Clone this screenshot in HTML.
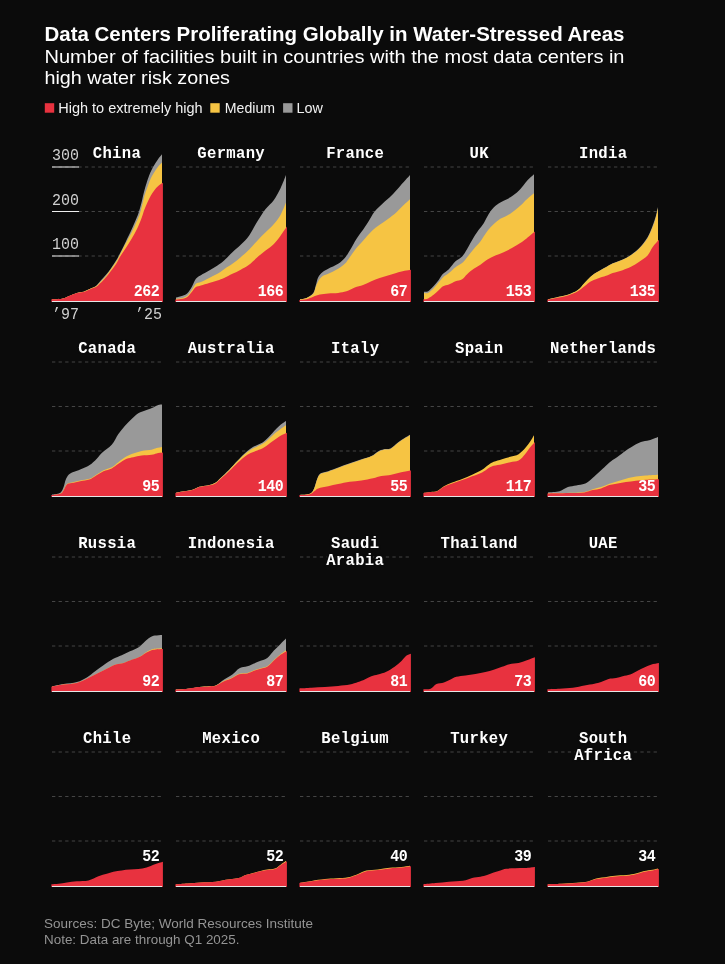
<!DOCTYPE html>
<html><head><meta charset="utf-8"><title>Data Centers</title>
<style>
html,body{margin:0;padding:0;background:#0b0b0b;}
body{width:725px;height:964px;overflow:hidden;position:relative;font-family:"Liberation Sans",sans-serif;}
svg{position:absolute;left:0;top:0;will-change:transform;}
.t{font-family:"Liberation Sans",sans-serif;}
.m{font-family:"Liberation Mono",monospace;}
</style></head><body>
<svg width="725" height="964" viewBox="0 0 725 964">
<rect width="725" height="964" fill="#0b0b0b"/>

<text class="t" x="44.5" y="40.6" font-size="20" font-weight="bold" fill="#ffffff" textLength="580" lengthAdjust="spacingAndGlyphs">Data Centers Proliferating Globally in Water-Stressed Areas</text>
<text class="t" x="44.5" y="62.6" font-size="19.2" fill="#ffffff" textLength="580" lengthAdjust="spacingAndGlyphs">Number of facilities built in countries with the most data centers in</text>
<text class="t" x="44.5" y="84.4" font-size="19.2" fill="#ffffff" textLength="185.5" lengthAdjust="spacingAndGlyphs">high water risk zones</text>
<rect x="44.8" y="103.2" width="9.4" height="9.5" fill="#e8323f"/>
<text class="t" x="58.2" y="112.6" font-size="14.4" fill="#f2f2f2" textLength="144.5" lengthAdjust="spacingAndGlyphs">High to extremely high</text>
<rect x="210.3" y="103.2" width="9.4" height="9.5" fill="#f6c443"/>
<text class="t" x="224.8" y="112.6" font-size="14.4" fill="#f2f2f2" textLength="50.2" lengthAdjust="spacingAndGlyphs">Medium</text>
<rect x="283.1" y="103.2" width="9.4" height="9.5" fill="#999999"/>
<text class="t" x="296.6" y="112.6" font-size="14.4" fill="#f2f2f2" textLength="26.4" lengthAdjust="spacingAndGlyphs">Low</text>
<text class="t" x="44" y="928" font-size="13" fill="#949494" textLength="269" lengthAdjust="spacingAndGlyphs">Sources: DC Byte; World Resources Institute</text>
<text class="t" x="44" y="944" font-size="13" fill="#949494" textLength="195.5" lengthAdjust="spacingAndGlyphs">Note: Data are through Q1 2025.</text>
<g>
<line x1="52" y1="256" x2="162" y2="256" stroke="#454545" stroke-width="1" stroke-dasharray="3.3 3.3"/>
<line x1="52" y1="256" x2="79" y2="256" stroke="#eeeeee" stroke-width="1"/>
<line x1="52" y1="211.5" x2="162" y2="211.5" stroke="#454545" stroke-width="1" stroke-dasharray="3.3 3.3"/>
<line x1="52" y1="211.5" x2="79" y2="211.5" stroke="#eeeeee" stroke-width="1"/>
<line x1="52" y1="167" x2="162" y2="167" stroke="#454545" stroke-width="1" stroke-dasharray="3.3 3.3"/>
<line x1="52" y1="167" x2="79" y2="167" stroke="#eeeeee" stroke-width="1"/>
<path d="M52.00,299.22C53.66,299.13 59.17,299.22 61.94,298.72C64.70,298.22 66.09,297.20 68.58,296.23C71.07,295.26 74.39,293.66 76.88,292.91C79.37,292.16 81.30,292.44 83.51,291.75C85.73,291.06 88.08,289.73 90.15,288.76C92.23,287.79 94.33,287.13 95.96,285.94C97.59,284.75 97.93,283.89 99.95,281.62C101.97,279.35 105.40,275.84 108.08,272.33C110.76,268.81 114.05,263.72 116.05,260.54C118.04,257.36 118.42,256.34 120.03,253.24C121.63,250.14 123.76,245.85 125.67,241.95C127.58,238.05 129.77,233.57 131.48,229.84C133.20,226.10 134.75,222.48 135.96,219.55C137.18,216.62 137.82,215.26 138.78,212.24C139.75,209.23 140.91,204.80 141.77,201.46C142.63,198.11 143.10,195.32 143.93,192.16C144.76,189.01 145.70,185.77 146.75,182.54C147.80,179.30 149.07,175.51 150.24,172.74C151.40,169.98 152.48,168.12 153.72,165.94C154.97,163.75 156.33,161.57 157.71,159.63C159.09,157.69 161.28,155.20 162.00,154.32L162.00,302.00L52.00,302.00Z" fill="#999999"/>
<path d="M52.00,299.22C53.66,299.13 59.17,299.22 61.94,298.72C64.70,298.22 66.09,297.20 68.58,296.23C71.07,295.26 74.39,293.66 76.88,292.91C79.37,292.16 81.30,292.44 83.51,291.75C85.73,291.06 88.08,289.67 90.15,288.76C92.23,287.85 94.33,287.29 95.96,286.27C97.59,285.25 97.93,284.80 99.95,282.62C101.97,280.43 105.40,276.62 108.08,273.16C110.76,269.70 114.05,264.97 116.05,261.87C118.04,258.77 118.42,257.61 120.03,254.57C121.63,251.53 123.76,247.24 125.67,243.61C127.58,239.99 129.77,236.26 131.48,232.83C133.20,229.40 134.63,225.99 135.96,223.03C137.29,220.07 138.40,218.11 139.45,215.07C140.50,212.02 141.44,208.01 142.27,204.78C143.10,201.54 143.57,198.58 144.43,195.65C145.28,192.72 146.36,190.03 147.41,187.18C148.47,184.33 149.60,181.04 150.73,178.55C151.87,176.06 152.98,174.24 154.22,172.24C155.46,170.25 156.91,168.21 158.20,166.60C159.50,165.00 161.37,163.28 162.00,162.62L162.00,302.00L52.00,302.00Z" fill="#f6c443"/>
<path d="M51.40,299.22C53.16,299.13 59.07,299.22 61.94,298.72C64.80,298.22 66.09,297.17 68.58,296.23C71.07,295.29 74.39,293.77 76.88,293.07C79.37,292.38 81.30,292.72 83.51,292.08C85.73,291.44 88.08,290.09 90.15,289.26C92.23,288.43 94.33,288.04 95.96,287.10C97.59,286.16 97.93,285.69 99.95,283.61C101.97,281.54 105.40,277.92 108.08,274.65C110.76,271.39 114.05,267.02 116.05,264.03C118.04,261.04 118.42,259.35 120.03,256.73C121.63,254.10 123.76,251.22 125.67,248.26C127.58,245.30 129.57,242.20 131.48,238.97C133.39,235.73 135.41,232.44 137.12,228.84C138.84,225.25 140.55,220.63 141.77,217.39C142.99,214.15 143.49,211.91 144.43,209.42C145.37,206.93 146.36,204.75 147.41,202.45C148.47,200.16 149.60,197.64 150.73,195.65C151.87,193.66 152.98,192.11 154.22,190.50C155.46,188.90 156.76,187.29 158.20,186.02C159.65,184.75 162.12,183.39 162.90,182.87L162.90,302.00L51.40,302.00Z" fill="#e8323f"/>
<rect x="52" y="301" width="110" height="1" fill="#e6e6e6"/>
<text class="m" x="116.95" y="157.6" font-size="15.6" font-weight="bold" fill="#ffffff" text-anchor="middle" letter-spacing="0.3" stroke="#0b0b0b" stroke-width="4" paint-order="stroke" stroke-linejoin="round">China</text>
<text class="m" transform="translate(159.2,295.5) scale(0.909,1)" font-size="16.5" font-weight="bold" fill="#ffffff" text-anchor="end" letter-spacing="-0.6">262</text>
</g>
<g>
<line x1="176" y1="256" x2="286" y2="256" stroke="#454545" stroke-width="1" stroke-dasharray="3.3 3.3"/>
<line x1="176" y1="211.5" x2="286" y2="211.5" stroke="#454545" stroke-width="1" stroke-dasharray="3.3 3.3"/>
<line x1="176" y1="167" x2="286" y2="167" stroke="#454545" stroke-width="1" stroke-dasharray="3.3 3.3"/>
<path d="M176.00,297.39C177.10,297.11 180.69,296.48 182.62,295.73C184.55,294.98 186.08,294.35 187.60,292.91C189.12,291.47 190.36,289.45 191.75,287.10C193.13,284.75 194.37,280.79 195.90,278.80C197.42,276.81 198.66,276.53 200.88,275.15C203.09,273.77 206.41,272.11 209.17,270.50C211.94,268.90 214.98,267.18 217.47,265.52C219.96,263.86 221.62,262.76 224.11,260.54C226.60,258.33 229.64,254.87 232.41,252.24C235.18,249.62 237.94,247.54 240.71,244.78C243.48,242.01 246.24,239.52 249.01,235.65C251.77,231.77 254.54,225.97 257.31,221.54C260.07,217.11 262.84,212.69 265.61,209.09C268.37,205.50 271.41,203.42 273.90,199.96C276.39,196.50 278.53,192.49 280.54,188.34C282.56,184.20 285.09,177.28 286.00,175.07L286.00,302.00L176.00,302.00Z" fill="#999999"/>
<path d="M176.00,298.72C177.10,298.58 180.69,298.44 182.62,297.89C184.55,297.33 186.08,296.70 187.60,295.40C189.12,294.10 190.36,292.02 191.75,290.09C193.13,288.15 194.37,285.11 195.90,283.78C197.42,282.45 198.66,283.09 200.88,282.12C203.09,281.15 206.41,279.35 209.17,277.97C211.94,276.59 214.98,275.29 217.47,273.82C219.96,272.36 221.62,270.83 224.11,269.17C226.60,267.51 229.64,265.85 232.41,263.86C235.18,261.87 237.94,259.58 240.71,257.22C243.48,254.87 246.24,252.52 249.01,249.76C251.77,246.99 254.54,243.53 257.31,240.63C260.07,237.72 262.84,235.09 265.61,232.33C268.37,229.56 271.41,226.93 273.90,224.03C276.39,221.12 278.53,218.50 280.54,214.90C282.56,211.30 285.09,204.53 286.00,202.45L286.00,302.00L176.00,302.00Z" fill="#f6c443"/>
<path d="M175.40,299.55C176.60,299.41 180.59,299.19 182.62,298.72C184.65,298.25 186.08,297.83 187.60,296.73C189.12,295.62 190.36,293.68 191.75,292.08C193.13,290.47 194.37,288.21 195.90,287.10C197.42,285.99 198.66,286.13 200.88,285.44C203.09,284.75 206.41,283.78 209.17,282.95C211.94,282.12 214.98,281.29 217.47,280.46C219.96,279.63 221.62,279.08 224.11,277.97C226.60,276.86 229.64,275.20 232.41,273.82C235.18,272.44 237.94,271.19 240.71,269.67C243.48,268.15 246.24,266.77 249.01,264.69C251.77,262.62 254.54,259.58 257.31,257.22C260.07,254.87 262.84,252.80 265.61,250.59C268.37,248.37 271.41,246.44 273.90,243.95C276.39,241.46 278.38,238.55 280.54,235.65C282.71,232.74 285.84,228.04 286.90,226.52L286.90,302.00L175.40,302.00Z" fill="#e8323f"/>
<rect x="176" y="301" width="110" height="1" fill="#e6e6e6"/>
<text class="m" x="231.15" y="157.6" font-size="15.6" font-weight="bold" fill="#ffffff" text-anchor="middle" letter-spacing="0.3" stroke="#0b0b0b" stroke-width="4" paint-order="stroke" stroke-linejoin="round">Germany</text>
<text class="m" transform="translate(283.2,295.5) scale(0.909,1)" font-size="16.5" font-weight="bold" fill="#ffffff" text-anchor="end" letter-spacing="-0.6">166</text>
</g>
<g>
<line x1="300" y1="256" x2="410" y2="256" stroke="#454545" stroke-width="1" stroke-dasharray="3.3 3.3"/>
<line x1="300" y1="211.5" x2="410" y2="211.5" stroke="#454545" stroke-width="1" stroke-dasharray="3.3 3.3"/>
<line x1="300" y1="167" x2="410" y2="167" stroke="#454545" stroke-width="1" stroke-dasharray="3.3 3.3"/>
<path d="M300.00,299.22C301.10,298.99 304.41,298.94 306.62,297.89C308.83,296.84 311.74,294.98 313.26,292.91C314.78,290.83 314.92,288.07 315.75,285.44C316.58,282.81 317.13,279.35 318.24,277.14C319.34,274.93 320.73,273.54 322.39,272.16C324.05,270.78 325.57,270.23 328.20,268.84C330.82,267.46 335.39,265.66 338.15,263.86C340.92,262.07 342.86,260.27 344.79,258.05C346.73,255.84 347.84,253.77 349.77,250.59C351.71,247.40 354.20,242.42 356.41,238.97C358.62,235.51 361.11,232.60 363.05,229.84C364.99,227.07 366.09,225.41 368.03,222.37C369.97,219.33 372.18,214.76 374.67,211.58C377.16,208.40 380.20,205.91 382.97,203.28C385.73,200.65 388.50,198.58 391.27,195.81C394.03,193.05 396.44,190.14 399.56,186.68C402.69,183.23 408.26,177.00 410.00,175.07L410.00,302.00L300.00,302.00Z" fill="#999999"/>
<path d="M300.00,299.22C301.10,298.99 304.41,298.80 306.62,297.89C308.83,296.98 311.74,295.54 313.26,293.74C314.78,291.94 314.92,289.17 315.75,287.10C316.58,285.02 317.13,283.09 318.24,281.29C319.34,279.49 320.73,277.56 322.39,276.31C324.05,275.07 325.57,275.07 328.20,273.82C330.82,272.58 335.39,270.50 338.15,268.84C340.92,267.18 342.86,265.80 344.79,263.86C346.73,261.93 347.84,259.85 349.77,257.22C351.71,254.60 354.20,250.86 356.41,248.10C358.62,245.33 360.56,243.39 363.05,240.63C365.54,237.86 368.58,234.13 371.35,231.50C374.11,228.87 376.88,226.93 379.65,224.86C382.41,222.78 385.18,221.12 387.95,219.05C390.71,216.98 393.76,214.62 396.24,212.41C398.73,210.20 400.59,207.98 402.88,205.77C405.18,203.56 408.81,200.24 410.00,199.13L410.00,302.00L300.00,302.00Z" fill="#f6c443"/>
<path d="M299.40,300.05C300.60,299.91 304.31,299.77 306.62,299.22C308.93,298.66 311.04,297.50 313.26,296.73C315.47,295.95 317.41,295.12 319.90,294.57C322.39,294.02 325.15,293.68 328.20,293.41C331.24,293.13 335.11,293.27 338.15,292.91C341.20,292.55 343.69,292.16 346.45,291.25C349.22,290.34 351.98,288.46 354.75,287.43C357.52,286.41 360.28,286.13 363.05,285.11C365.82,284.08 368.58,282.48 371.35,281.29C374.11,280.10 376.88,278.94 379.65,277.97C382.41,277.00 385.18,276.31 387.95,275.48C390.71,274.65 393.48,273.77 396.24,272.99C399.01,272.22 402.10,271.39 404.54,270.83C406.99,270.28 409.84,269.87 410.90,269.67L410.90,302.00L299.40,302.00Z" fill="#e8323f"/>
<rect x="300" y="301" width="110" height="1" fill="#e6e6e6"/>
<text class="m" x="355.15" y="157.6" font-size="15.6" font-weight="bold" fill="#ffffff" text-anchor="middle" letter-spacing="0.3" stroke="#0b0b0b" stroke-width="4" paint-order="stroke" stroke-linejoin="round">France</text>
<text class="m" transform="translate(407.2,295.5) scale(0.909,1)" font-size="16.5" font-weight="bold" fill="#ffffff" text-anchor="end" letter-spacing="-0.6">67</text>
</g>
<g>
<line x1="424" y1="256" x2="534" y2="256" stroke="#454545" stroke-width="1" stroke-dasharray="3.3 3.3"/>
<line x1="424" y1="211.5" x2="534" y2="211.5" stroke="#454545" stroke-width="1" stroke-dasharray="3.3 3.3"/>
<line x1="424" y1="167" x2="534" y2="167" stroke="#454545" stroke-width="1" stroke-dasharray="3.3 3.3"/>
<path d="M424.00,291.75C424.69,291.66 426.47,292.24 428.13,291.25C429.78,290.25 432.14,287.71 433.94,285.77C435.74,283.84 437.40,281.62 438.92,279.63C440.44,277.64 441.41,275.56 443.07,273.82C444.73,272.08 446.80,271.25 448.88,269.17C450.95,267.10 453.30,263.50 455.51,261.37C457.73,259.24 460.22,258.47 462.15,256.39C464.09,254.32 465.20,252.11 467.13,248.93C469.07,245.74 471.84,240.49 473.77,237.31C475.71,234.13 477.09,232.19 478.75,229.84C480.41,227.49 482.07,225.83 483.73,223.20C485.39,220.57 487.05,216.70 488.71,214.07C490.37,211.44 491.75,209.37 493.69,207.43C495.63,205.50 498.11,203.84 500.33,202.45C502.54,201.07 504.75,200.38 506.97,199.13C509.18,197.89 511.39,196.64 513.61,194.98C515.82,193.32 518.03,191.53 520.24,189.17C522.46,186.82 524.59,183.37 526.88,180.88C529.18,178.39 532.81,175.34 534.00,174.24L534.00,302.00L424.00,302.00Z" fill="#999999"/>
<path d="M424.00,292.91C424.69,292.91 426.47,293.74 428.13,292.91C429.78,292.08 432.14,289.73 433.94,287.93C435.74,286.13 437.40,283.92 438.92,282.12C440.44,280.32 441.41,278.66 443.07,277.14C444.73,275.62 446.80,274.65 448.88,272.99C450.95,271.33 453.30,268.84 455.51,267.18C457.73,265.52 460.22,264.69 462.15,263.03C464.09,261.37 465.20,259.58 467.13,257.22C469.07,254.87 471.56,251.55 473.77,248.93C475.98,246.30 478.20,244.36 480.41,241.46C482.62,238.55 485.11,234.13 487.05,231.50C488.99,228.87 490.09,227.63 492.03,225.69C493.97,223.75 496.46,221.40 498.67,219.88C500.88,218.36 503.09,217.80 505.31,216.56C507.52,215.32 509.46,214.21 511.95,212.41C514.44,210.61 517.76,207.98 520.24,205.77C522.73,203.56 524.59,201.21 526.88,199.13C529.18,197.06 532.81,194.29 534.00,193.32L534.00,302.00L424.00,302.00Z" fill="#f6c443"/>
<path d="M423.40,299.22C424.19,299.08 426.37,299.16 428.13,298.39C429.88,297.61 432.14,295.95 433.94,294.57C435.74,293.19 437.40,291.47 438.92,290.09C440.44,288.70 441.41,287.18 443.07,286.27C444.73,285.36 446.80,285.44 448.88,284.61C450.95,283.78 453.30,282.20 455.51,281.29C457.73,280.38 460.22,280.32 462.15,279.13C464.09,277.94 465.20,275.87 467.13,274.15C469.07,272.44 471.56,270.42 473.77,268.84C475.98,267.27 478.20,266.21 480.41,264.69C482.62,263.17 484.56,261.24 487.05,259.71C489.54,258.19 492.58,256.81 495.35,255.56C498.11,254.32 500.88,253.49 503.65,252.24C506.41,251.00 509.18,249.62 511.95,248.10C514.71,246.57 517.76,244.78 520.24,243.12C522.73,241.46 524.44,240.07 526.88,238.14C529.33,236.20 533.56,232.60 534.90,231.50L534.90,302.00L423.40,302.00Z" fill="#e8323f"/>
<rect x="424" y="301" width="110" height="1" fill="#e6e6e6"/>
<text class="m" x="479.15" y="157.6" font-size="15.6" font-weight="bold" fill="#ffffff" text-anchor="middle" letter-spacing="0.3" stroke="#0b0b0b" stroke-width="4" paint-order="stroke" stroke-linejoin="round">UK</text>
<text class="m" transform="translate(531.2,295.5) scale(0.909,1)" font-size="16.5" font-weight="bold" fill="#ffffff" text-anchor="end" letter-spacing="-0.6">153</text>
</g>
<g>
<line x1="548" y1="256" x2="658" y2="256" stroke="#454545" stroke-width="1" stroke-dasharray="3.3 3.3"/>
<line x1="548" y1="211.5" x2="658" y2="211.5" stroke="#454545" stroke-width="1" stroke-dasharray="3.3 3.3"/>
<line x1="548" y1="167" x2="658" y2="167" stroke="#454545" stroke-width="1" stroke-dasharray="3.3 3.3"/>
<path d="M548.00,299.22C549.38,298.91 552.96,298.14 556.28,297.39C559.59,296.64 564.30,295.95 567.90,294.73C571.49,293.52 575.09,292.05 577.85,290.09C580.62,288.12 582.28,285.27 584.49,282.95C586.71,280.63 588.92,278.03 591.13,276.15C593.35,274.26 595.28,273.19 597.77,271.66C600.26,270.14 603.58,268.40 606.07,267.02C608.56,265.63 609.94,264.64 612.71,263.37C615.48,262.09 619.63,260.79 622.67,259.38C625.71,257.97 628.20,256.78 630.97,254.90C633.73,253.02 636.50,251.03 639.27,248.10C642.03,245.16 645.35,240.99 647.56,237.31C649.78,233.63 651.16,229.56 652.54,226.02C653.93,222.48 654.95,219.22 655.86,216.06C656.77,212.91 657.64,208.59 658.00,207.10L658.00,302.00L548.00,302.00Z" fill="#999999"/>
<path d="M548.00,299.22C549.38,298.91 552.96,298.14 556.28,297.39C559.59,296.64 564.30,295.95 567.90,294.73C571.49,293.52 575.09,292.05 577.85,290.09C580.62,288.12 582.28,285.25 584.49,282.95C586.71,280.65 588.92,278.16 591.13,276.31C593.35,274.46 595.28,273.35 597.77,271.83C600.26,270.31 603.58,268.57 606.07,267.18C608.56,265.80 609.94,264.78 612.71,263.53C615.48,262.29 619.63,261.10 622.67,259.71C625.71,258.33 628.20,257.09 630.97,255.23C633.73,253.38 636.50,251.44 639.27,248.59C642.03,245.74 645.35,241.68 647.56,238.14C649.78,234.60 651.16,230.81 652.54,227.35C653.93,223.89 654.95,220.57 655.86,217.39C656.77,214.21 657.64,209.78 658.00,208.26L658.00,302.00L548.00,302.00Z" fill="#f6c443"/>
<path d="M547.40,299.55C548.88,299.27 552.86,298.58 556.28,297.89C559.69,297.20 564.30,296.50 567.90,295.40C571.49,294.29 575.09,292.77 577.85,291.25C580.62,289.73 582.28,287.93 584.49,286.27C586.71,284.61 588.92,282.59 591.13,281.29C593.35,279.99 595.28,279.38 597.77,278.47C600.26,277.56 603.58,276.73 606.07,275.81C608.56,274.90 609.94,273.93 612.71,272.99C615.48,272.05 619.63,271.19 622.67,270.17C625.71,269.15 628.20,268.23 630.97,266.85C633.73,265.47 636.50,263.75 639.27,261.87C642.03,259.99 645.35,258.00 647.56,255.56C649.78,253.13 650.65,249.89 652.54,247.27C654.43,244.64 657.84,241.04 658.90,239.80L658.90,302.00L547.40,302.00Z" fill="#e8323f"/>
<rect x="548" y="301" width="110" height="1" fill="#e6e6e6"/>
<text class="m" x="603.15" y="157.6" font-size="15.6" font-weight="bold" fill="#ffffff" text-anchor="middle" letter-spacing="0.3" stroke="#0b0b0b" stroke-width="4" paint-order="stroke" stroke-linejoin="round">India</text>
<text class="m" transform="translate(655.2,295.5) scale(0.909,1)" font-size="16.5" font-weight="bold" fill="#ffffff" text-anchor="end" letter-spacing="-0.6">135</text>
</g>
<g>
<line x1="52" y1="451" x2="162" y2="451" stroke="#454545" stroke-width="1" stroke-dasharray="3.3 3.3"/>
<line x1="52" y1="406.5" x2="162" y2="406.5" stroke="#454545" stroke-width="1" stroke-dasharray="3.3 3.3"/>
<line x1="52" y1="362" x2="162" y2="362" stroke="#454545" stroke-width="1" stroke-dasharray="3.3 3.3"/>
<path d="M52.00,494.55C52.96,494.41 56.27,494.13 57.79,493.72C59.31,493.30 60.14,493.16 61.11,492.06C62.08,490.95 62.77,489.29 63.60,487.08C64.43,484.87 64.98,481.05 66.09,478.78C67.19,476.51 68.16,474.91 70.24,473.47C72.31,472.03 75.63,471.34 78.54,470.15C81.44,468.96 84.90,467.94 87.66,466.33C90.43,464.73 92.78,462.74 95.13,460.52C97.48,458.31 99.01,455.68 101.77,453.05C104.54,450.43 108.96,447.94 111.73,444.76C114.50,441.57 116.16,437.15 118.37,433.97C120.58,430.79 122.80,428.16 125.01,425.67C127.22,423.18 129.43,421.10 131.65,419.03C133.86,416.95 135.80,414.74 138.29,413.22C140.78,411.70 144.10,410.87 146.59,409.90C149.07,408.93 151.29,408.24 153.22,407.41C155.16,406.58 156.74,405.42 158.20,404.92C159.67,404.42 161.37,404.51 162.00,404.42L162.00,497.00L52.00,497.00Z" fill="#999999"/>
<path d="M52.00,495.05C53.38,494.82 58.35,494.55 60.28,493.72C62.21,492.89 62.49,491.67 63.60,490.07C64.70,488.46 65.53,485.36 66.92,484.09C68.30,482.82 69.68,483.04 71.90,482.43C74.11,481.82 77.29,481.05 80.20,480.44C83.10,479.83 86.83,479.61 89.32,478.78C91.81,477.95 92.78,476.90 95.13,475.46C97.48,474.02 100.67,471.53 103.43,470.15C106.20,468.77 109.24,468.49 111.73,467.16C114.22,465.83 115.88,463.98 118.37,462.18C120.86,460.38 124.18,457.81 126.67,456.37C129.16,454.93 130.82,454.46 133.31,453.55C135.80,452.64 138.56,451.53 141.61,450.90C144.65,450.26 149.07,450.20 151.56,449.73C154.05,449.26 154.80,448.54 156.54,448.07C158.28,447.60 161.09,447.11 162.00,446.91L162.00,497.00L52.00,497.00Z" fill="#f6c443"/>
<path d="M51.40,495.05C52.88,494.82 58.25,494.49 60.28,493.72C62.31,492.94 62.49,491.92 63.60,490.40C64.70,488.88 65.53,485.81 66.92,484.59C68.30,483.37 69.68,483.65 71.90,483.10C74.11,482.54 77.29,481.85 80.20,481.27C83.10,480.69 86.83,480.44 89.32,479.61C91.81,478.78 92.78,477.67 95.13,476.29C97.48,474.91 100.67,472.61 103.43,471.31C106.20,470.01 109.24,469.73 111.73,468.49C114.22,467.24 115.88,465.45 118.37,463.84C120.86,462.24 124.18,459.97 126.67,458.86C129.16,457.76 130.82,457.76 133.31,457.20C135.80,456.65 138.56,455.96 141.61,455.54C144.65,455.13 149.07,455.07 151.56,454.71C154.05,454.35 154.65,453.75 156.54,453.39C158.43,453.03 161.84,452.69 162.90,452.56L162.90,497.00L51.40,497.00Z" fill="#e8323f"/>
<rect x="52" y="496" width="110" height="1" fill="#e6e6e6"/>
<text class="m" x="107.15" y="352.6" font-size="15.6" font-weight="bold" fill="#ffffff" text-anchor="middle" letter-spacing="0.3" stroke="#0b0b0b" stroke-width="4" paint-order="stroke" stroke-linejoin="round">Canada</text>
<text class="m" transform="translate(159.2,490.5) scale(0.909,1)" font-size="16.5" font-weight="bold" fill="#ffffff" text-anchor="end" letter-spacing="-0.6">95</text>
</g>
<g>
<line x1="176" y1="451" x2="286" y2="451" stroke="#454545" stroke-width="1" stroke-dasharray="3.3 3.3"/>
<line x1="176" y1="406.5" x2="286" y2="406.5" stroke="#454545" stroke-width="1" stroke-dasharray="3.3 3.3"/>
<line x1="176" y1="362" x2="286" y2="362" stroke="#454545" stroke-width="1" stroke-dasharray="3.3 3.3"/>
<path d="M176.00,492.72C177.10,492.53 179.86,492.06 182.62,491.56C185.38,491.06 189.81,490.54 192.58,489.73C195.34,488.93 196.73,487.47 199.22,486.75C201.71,486.03 204.89,486.03 207.51,485.42C210.14,484.81 212.77,484.37 214.98,483.10C217.20,481.82 218.44,480.00 220.79,477.78C223.14,475.57 226.33,472.64 229.09,469.82C231.86,467.00 234.90,463.48 237.39,460.85C239.88,458.23 241.82,456.10 244.03,454.05C246.24,452.00 248.46,450.09 250.67,448.57C252.88,447.05 255.09,446.11 257.31,444.92C259.52,443.73 261.46,443.40 263.95,441.44C266.44,439.47 269.48,435.90 272.24,433.14C275.01,430.37 278.25,426.86 280.54,424.84C282.84,422.82 285.09,421.66 286.00,421.02L286.00,497.00L176.00,497.00Z" fill="#999999"/>
<path d="M176.00,492.72C177.10,492.53 179.86,492.06 182.62,491.56C185.38,491.06 189.81,490.54 192.58,489.73C195.34,488.93 196.73,487.47 199.22,486.75C201.71,486.03 204.89,486.03 207.51,485.42C210.14,484.81 212.77,484.34 214.98,483.10C217.20,481.85 218.44,480.11 220.79,477.95C223.14,475.79 226.33,472.92 229.09,470.15C231.86,467.38 234.90,463.93 237.39,461.35C239.88,458.78 241.82,456.65 244.03,454.71C246.24,452.78 248.46,451.12 250.67,449.73C252.88,448.35 255.09,447.52 257.31,446.41C259.52,445.31 261.46,444.89 263.95,443.10C266.44,441.30 269.48,437.98 272.24,435.63C275.01,433.28 278.25,430.70 280.54,428.99C282.84,427.27 285.09,425.94 286.00,425.34L286.00,497.00L176.00,497.00Z" fill="#f6c443"/>
<path d="M175.40,492.89C176.60,492.69 179.76,492.20 182.62,491.73C185.48,491.26 189.81,490.84 192.58,490.07C195.34,489.29 196.73,487.80 199.22,487.08C201.71,486.36 204.89,486.30 207.51,485.75C210.14,485.20 212.77,484.92 214.98,483.76C217.20,482.60 218.44,480.85 220.79,478.78C223.14,476.71 226.33,473.94 229.09,471.31C231.86,468.68 234.90,465.36 237.39,463.01C239.88,460.66 241.82,458.86 244.03,457.20C246.24,455.54 248.46,454.16 250.67,453.05C252.88,451.95 255.09,451.48 257.31,450.56C259.52,449.65 261.46,449.10 263.95,447.58C266.44,446.06 269.48,443.43 272.24,441.44C275.01,439.44 278.10,437.09 280.54,435.63C282.99,434.16 285.84,433.14 286.90,432.64L286.90,497.00L175.40,497.00Z" fill="#e8323f"/>
<rect x="176" y="496" width="110" height="1" fill="#e6e6e6"/>
<text class="m" x="231.15" y="352.6" font-size="15.6" font-weight="bold" fill="#ffffff" text-anchor="middle" letter-spacing="0.3" stroke="#0b0b0b" stroke-width="4" paint-order="stroke" stroke-linejoin="round">Australia</text>
<text class="m" transform="translate(283.2,490.5) scale(0.909,1)" font-size="16.5" font-weight="bold" fill="#ffffff" text-anchor="end" letter-spacing="-0.6">140</text>
</g>
<g>
<line x1="300" y1="451" x2="410" y2="451" stroke="#454545" stroke-width="1" stroke-dasharray="3.3 3.3"/>
<line x1="300" y1="406.5" x2="410" y2="406.5" stroke="#454545" stroke-width="1" stroke-dasharray="3.3 3.3"/>
<line x1="300" y1="362" x2="410" y2="362" stroke="#454545" stroke-width="1" stroke-dasharray="3.3 3.3"/>
<path d="M300.00,494.88C301.66,494.69 307.59,494.80 309.94,493.72C312.29,492.64 312.84,490.98 314.09,488.41C315.33,485.83 316.30,480.80 317.41,478.28C318.51,475.76 318.93,474.49 320.73,473.30C322.52,472.11 325.29,472.11 328.20,471.15C331.10,470.18 334.56,468.79 338.15,467.49C341.75,466.19 345.90,464.73 349.77,463.34C353.64,461.96 357.79,460.44 361.39,459.20C364.99,457.95 368.58,457.18 371.35,455.88C374.11,454.58 375.91,452.50 377.99,451.39C380.06,450.29 381.72,449.73 383.80,449.24C385.87,448.74 388.08,449.51 390.44,448.41C392.79,447.30 395.55,444.31 397.90,442.60C400.26,440.88 402.53,439.42 404.54,438.12C406.56,436.82 409.09,435.35 410.00,434.80L410.00,497.00L300.00,497.00Z" fill="#999999"/>
<path d="M300.00,494.88C301.66,494.69 307.59,494.74 309.94,493.72C312.29,492.69 312.84,491.23 314.09,488.74C315.33,486.25 316.30,481.27 317.41,478.78C318.51,476.29 318.93,474.99 320.73,473.80C322.52,472.61 325.29,472.61 328.20,471.64C331.10,470.67 334.56,469.29 338.15,467.99C341.75,466.69 345.90,465.23 349.77,463.84C353.64,462.46 357.79,460.94 361.39,459.69C364.99,458.45 368.58,457.67 371.35,456.37C374.11,455.07 375.91,453.00 377.99,451.89C380.06,450.79 381.72,450.23 383.80,449.73C385.87,449.24 388.08,450.01 390.44,448.90C392.79,447.80 395.55,444.81 397.90,443.10C400.26,441.38 402.53,439.91 404.54,438.61C406.56,437.31 409.09,435.85 410.00,435.29L410.00,497.00L300.00,497.00Z" fill="#f6c443"/>
<path d="M299.40,495.05C301.16,494.91 307.35,494.93 309.94,494.22C312.52,493.50 313.53,491.70 314.92,490.73C316.30,489.76 316.02,489.15 318.24,488.41C320.45,487.66 324.88,486.97 328.20,486.25C331.51,485.53 334.56,484.84 338.15,484.09C341.75,483.34 345.90,482.38 349.77,481.77C353.64,481.16 357.52,481.02 361.39,480.44C365.26,479.86 369.69,479.03 373.01,478.28C376.33,477.54 378.26,476.57 381.31,475.96C384.35,475.35 387.95,475.27 391.27,474.63C394.59,473.99 397.95,472.83 401.22,472.14C404.50,471.45 409.29,470.76 410.90,470.48L410.90,497.00L299.40,497.00Z" fill="#e8323f"/>
<rect x="300" y="496" width="110" height="1" fill="#e6e6e6"/>
<text class="m" x="355.15" y="352.6" font-size="15.6" font-weight="bold" fill="#ffffff" text-anchor="middle" letter-spacing="0.3" stroke="#0b0b0b" stroke-width="4" paint-order="stroke" stroke-linejoin="round">Italy</text>
<text class="m" transform="translate(407.2,490.5) scale(0.909,1)" font-size="16.5" font-weight="bold" fill="#ffffff" text-anchor="end" letter-spacing="-0.6">55</text>
</g>
<g>
<line x1="424" y1="451" x2="534" y2="451" stroke="#454545" stroke-width="1" stroke-dasharray="3.3 3.3"/>
<line x1="424" y1="406.5" x2="534" y2="406.5" stroke="#454545" stroke-width="1" stroke-dasharray="3.3 3.3"/>
<line x1="424" y1="362" x2="534" y2="362" stroke="#454545" stroke-width="1" stroke-dasharray="3.3 3.3"/>
<path d="M424.00,492.72C425.10,492.58 428.41,492.20 430.62,491.89C432.83,491.59 435.04,491.84 437.26,490.90C439.47,489.96 441.41,487.63 443.90,486.25C446.39,484.87 449.15,483.79 452.20,482.60C455.24,481.41 458.83,480.44 462.15,479.11C465.47,477.78 468.79,476.21 472.11,474.63C475.43,473.05 479.30,471.31 482.07,469.65C484.84,467.99 486.77,465.97 488.71,464.67C490.65,463.37 491.48,462.76 493.69,461.85C495.90,460.94 499.22,460.02 501.99,459.20C504.75,458.37 507.52,457.70 510.29,456.87C513.05,456.04 516.10,455.68 518.59,454.22C521.07,452.75 523.29,450.20 525.22,448.07C527.16,445.94 528.74,443.57 530.20,441.44C531.67,439.31 533.37,436.32 534.00,435.29L534.00,497.00L424.00,497.00Z" fill="#f6c443"/>
<path d="M423.40,492.89C424.60,492.75 428.31,492.33 430.62,492.06C432.93,491.78 435.04,492.11 437.26,491.23C439.47,490.34 441.41,488.05 443.90,486.75C446.39,485.45 449.15,484.53 452.20,483.43C455.24,482.32 458.83,481.30 462.15,480.11C465.47,478.92 468.79,477.56 472.11,476.29C475.43,475.02 479.30,473.86 482.07,472.47C484.84,471.09 486.77,469.10 488.71,467.99C490.65,466.89 491.48,466.47 493.69,465.83C495.90,465.20 499.22,464.78 501.99,464.17C504.75,463.57 507.52,462.79 510.29,462.18C513.05,461.57 516.10,461.91 518.59,460.52C521.07,459.14 523.29,456.10 525.22,453.88C527.16,451.67 528.59,449.24 530.20,447.24C531.82,445.25 534.12,442.82 534.90,441.93L534.90,497.00L423.40,497.00Z" fill="#e8323f"/>
<rect x="424" y="496" width="110" height="1" fill="#e6e6e6"/>
<text class="m" x="479.15" y="352.6" font-size="15.6" font-weight="bold" fill="#ffffff" text-anchor="middle" letter-spacing="0.3" stroke="#0b0b0b" stroke-width="4" paint-order="stroke" stroke-linejoin="round">Spain</text>
<text class="m" transform="translate(531.2,490.5) scale(0.909,1)" font-size="16.5" font-weight="bold" fill="#ffffff" text-anchor="end" letter-spacing="-0.6">117</text>
</g>
<g>
<line x1="548" y1="451" x2="658" y2="451" stroke="#454545" stroke-width="1" stroke-dasharray="3.3 3.3"/>
<line x1="548" y1="406.5" x2="658" y2="406.5" stroke="#454545" stroke-width="1" stroke-dasharray="3.3 3.3"/>
<line x1="548" y1="362" x2="658" y2="362" stroke="#454545" stroke-width="1" stroke-dasharray="3.3 3.3"/>
<path d="M548.00,492.39C549.93,492.20 556.28,492.11 559.60,491.23C562.91,490.34 565.13,488.05 567.90,487.08C570.66,486.11 573.43,485.97 576.20,485.42C578.96,484.87 582.28,484.53 584.49,483.76C586.71,482.98 587.54,482.29 589.47,480.77C591.41,479.25 593.62,476.90 596.11,474.63C598.60,472.36 601.92,469.37 604.41,467.16C606.90,464.95 608.84,463.07 611.05,461.35C613.26,459.64 615.20,458.67 617.69,456.87C620.18,455.07 623.22,452.50 625.99,450.56C628.75,448.63 631.80,446.69 634.29,445.25C636.78,443.81 638.44,442.76 640.93,441.93C643.41,441.10 646.38,441.10 649.22,440.27C652.07,439.44 656.54,437.51 658.00,436.95L658.00,497.00L548.00,497.00Z" fill="#999999"/>
<path d="M548.00,493.22C549.93,493.19 555.45,493.14 559.60,493.05C563.74,492.97 568.73,492.92 572.88,492.72C577.02,492.53 581.17,492.47 584.49,491.89C587.81,491.31 590.03,490.04 592.79,489.24C595.56,488.43 598.33,487.99 601.09,487.08C603.86,486.17 606.62,484.73 609.39,483.76C612.16,482.79 614.92,482.10 617.69,481.27C620.46,480.44 622.94,479.55 625.99,478.78C629.03,478.01 632.63,477.18 635.95,476.62C639.27,476.07 642.23,475.79 645.90,475.46C649.58,475.13 655.98,474.77 658.00,474.63L658.00,497.00L548.00,497.00Z" fill="#f6c443"/>
<path d="M547.40,493.39C549.43,493.36 555.35,493.28 559.60,493.22C563.84,493.16 568.73,493.19 572.88,493.05C577.02,492.92 581.17,492.89 584.49,492.39C587.81,491.89 590.03,490.73 592.79,490.07C595.56,489.40 598.33,489.24 601.09,488.41C603.86,487.58 606.62,485.92 609.39,485.09C612.16,484.26 614.92,483.93 617.69,483.43C620.46,482.93 622.94,482.54 625.99,482.10C629.03,481.66 632.63,481.16 635.95,480.77C639.27,480.38 642.08,480.02 645.90,479.78C649.73,479.53 656.73,479.36 658.90,479.28L658.90,497.00L547.40,497.00Z" fill="#e8323f"/>
<rect x="548" y="496" width="110" height="1" fill="#e6e6e6"/>
<text class="m" x="603.15" y="352.6" font-size="15.6" font-weight="bold" fill="#ffffff" text-anchor="middle" letter-spacing="0.3" stroke="#0b0b0b" stroke-width="4" paint-order="stroke" stroke-linejoin="round">Netherlands</text>
<text class="m" transform="translate(655.2,490.5) scale(0.909,1)" font-size="16.5" font-weight="bold" fill="#ffffff" text-anchor="end" letter-spacing="-0.6">35</text>
</g>
<g>
<line x1="52" y1="646" x2="162" y2="646" stroke="#454545" stroke-width="1" stroke-dasharray="3.3 3.3"/>
<line x1="52" y1="601.5" x2="162" y2="601.5" stroke="#454545" stroke-width="1" stroke-dasharray="3.3 3.3"/>
<line x1="52" y1="557" x2="162" y2="557" stroke="#454545" stroke-width="1" stroke-dasharray="3.3 3.3"/>
<path d="M52.00,686.39C53.93,686.01 59.45,684.79 63.60,684.07C67.74,683.35 73.00,683.19 76.88,682.08C80.75,680.97 83.79,679.23 86.83,677.43C89.88,675.63 92.37,673.34 95.13,671.29C97.90,669.24 100.39,667.22 103.43,665.15C106.47,663.07 110.35,660.50 113.39,658.84C116.43,657.18 118.92,656.44 121.69,655.19C124.46,653.95 127.22,652.65 129.99,651.37C132.75,650.10 135.80,649.22 138.29,647.56C140.78,645.90 142.99,643.07 144.93,641.41C146.86,639.76 148.24,638.57 149.90,637.60C151.56,636.63 152.87,636.05 154.88,635.61C156.90,635.16 160.81,635.05 162.00,634.94L162.00,692.00L52.00,692.00Z" fill="#999999"/>
<path d="M52.00,686.73C53.93,686.37 59.45,685.20 63.60,684.57C67.74,683.93 73.00,683.88 76.88,682.91C80.75,681.94 83.51,680.28 86.83,678.76C90.15,677.24 93.47,675.44 96.79,673.78C100.11,672.12 103.71,670.32 106.75,668.80C109.79,667.28 112.56,665.54 115.05,664.65C117.54,663.77 119.20,664.18 121.69,663.49C124.18,662.80 126.94,661.64 129.99,660.50C133.03,659.37 137.18,658.10 139.95,656.68C142.71,655.27 144.37,653.31 146.59,652.04C148.80,650.76 150.65,649.69 153.22,649.05C155.79,648.41 160.54,648.36 162.00,648.22L162.00,692.00L52.00,692.00Z" fill="#f6c443"/>
<path d="M51.40,686.73C53.43,686.37 59.35,685.20 63.60,684.57C67.84,683.93 73.00,683.88 76.88,682.91C80.75,681.94 83.51,680.28 86.83,678.76C90.15,677.24 93.47,675.44 96.79,673.78C100.11,672.12 103.71,670.32 106.75,668.80C109.79,667.28 112.56,665.54 115.05,664.65C117.54,663.77 119.20,664.18 121.69,663.49C124.18,662.80 126.94,661.61 129.99,660.50C133.03,659.40 137.18,658.18 139.95,656.85C142.71,655.52 144.37,653.72 146.59,652.54C148.80,651.35 150.50,650.32 153.22,649.71C155.94,649.11 161.29,649.02 162.90,648.88L162.90,692.00L51.40,692.00Z" fill="#e8323f"/>
<rect x="52" y="691" width="110" height="1" fill="#e6e6e6"/>
<text class="m" x="107.15" y="547.6" font-size="15.6" font-weight="bold" fill="#ffffff" text-anchor="middle" letter-spacing="0.3" stroke="#0b0b0b" stroke-width="4" paint-order="stroke" stroke-linejoin="round">Russia</text>
<text class="m" transform="translate(159.2,685.5) scale(0.909,1)" font-size="16.5" font-weight="bold" fill="#ffffff" text-anchor="end" letter-spacing="-0.6">92</text>
</g>
<g>
<line x1="176" y1="646" x2="286" y2="646" stroke="#454545" stroke-width="1" stroke-dasharray="3.3 3.3"/>
<line x1="176" y1="601.5" x2="286" y2="601.5" stroke="#454545" stroke-width="1" stroke-dasharray="3.3 3.3"/>
<line x1="176" y1="557" x2="286" y2="557" stroke="#454545" stroke-width="1" stroke-dasharray="3.3 3.3"/>
<path d="M176.00,689.55C177.93,689.41 183.73,689.16 187.60,688.72C191.47,688.28 195.62,687.31 199.22,686.89C202.81,686.48 206.41,686.48 209.17,686.23C211.94,685.98 213.32,686.50 215.81,685.40C218.30,684.29 221.35,681.39 224.11,679.59C226.88,677.79 229.92,676.46 232.41,674.61C234.90,672.76 236.56,669.85 239.05,668.47C241.54,667.09 244.86,667.14 247.35,666.31C249.84,665.48 251.77,664.40 253.99,663.49C256.20,662.58 258.41,661.75 260.63,660.83C262.84,659.92 265.05,659.73 267.27,658.01C269.48,656.30 271.69,652.89 273.90,650.54C276.12,648.19 278.53,645.90 280.54,643.90C282.56,641.91 285.09,639.48 286.00,638.59L286.00,692.00L176.00,692.00Z" fill="#999999"/>
<path d="M176.00,689.55C177.93,689.41 183.73,689.16 187.60,688.72C191.47,688.28 195.62,687.31 199.22,686.89C202.81,686.48 206.41,686.48 209.17,686.23C211.94,685.98 213.32,686.31 215.81,685.40C218.30,684.49 221.62,681.94 224.11,680.75C226.60,679.56 228.26,679.42 230.75,678.26C233.24,677.10 236.28,674.67 239.05,673.78C241.82,672.89 244.86,673.53 247.35,672.95C249.84,672.37 251.77,671.07 253.99,670.29C256.20,669.52 258.41,668.97 260.63,668.30C262.84,667.64 265.05,667.69 267.27,666.31C269.48,664.93 271.69,662.02 273.90,660.00C276.12,657.98 278.53,655.83 280.54,654.20C282.56,652.56 285.09,650.88 286.00,650.21L286.00,692.00L176.00,692.00Z" fill="#f6c443"/>
<path d="M175.40,689.55C177.43,689.41 183.63,689.13 187.60,688.72C191.57,688.30 195.62,687.45 199.22,687.06C202.81,686.67 206.41,686.62 209.17,686.39C211.94,686.17 213.32,686.59 215.81,685.73C218.30,684.87 221.62,682.41 224.11,681.25C226.60,680.09 228.26,679.92 230.75,678.76C233.24,677.60 236.28,675.16 239.05,674.28C241.82,673.39 244.86,674.03 247.35,673.45C249.84,672.87 251.77,671.57 253.99,670.79C256.20,670.02 258.41,669.46 260.63,668.80C262.84,668.14 265.05,668.19 267.27,666.81C269.48,665.43 271.69,662.52 273.90,660.50C276.12,658.48 278.38,656.30 280.54,654.69C282.71,653.09 285.84,651.51 286.90,650.88L286.90,692.00L175.40,692.00Z" fill="#e8323f"/>
<rect x="176" y="691" width="110" height="1" fill="#e6e6e6"/>
<text class="m" x="231.15" y="547.6" font-size="15.6" font-weight="bold" fill="#ffffff" text-anchor="middle" letter-spacing="0.3" stroke="#0b0b0b" stroke-width="4" paint-order="stroke" stroke-linejoin="round">Indonesia</text>
<text class="m" transform="translate(283.2,685.5) scale(0.909,1)" font-size="16.5" font-weight="bold" fill="#ffffff" text-anchor="end" letter-spacing="-0.6">87</text>
</g>
<g>
<line x1="300" y1="646" x2="410" y2="646" stroke="#454545" stroke-width="1" stroke-dasharray="3.3 3.3"/>
<line x1="300" y1="601.5" x2="410" y2="601.5" stroke="#454545" stroke-width="1" stroke-dasharray="3.3 3.3"/>
<line x1="300" y1="557" x2="410" y2="557" stroke="#454545" stroke-width="1" stroke-dasharray="3.3 3.3"/>
<path d="M299.40,688.39C301.43,688.28 307.35,687.94 311.60,687.72C315.84,687.50 320.45,687.36 324.88,687.06C329.30,686.75 334.00,686.31 338.15,685.90C342.30,685.48 346.45,685.20 349.77,684.57C353.09,683.93 355.58,682.91 358.07,682.08C360.56,681.25 362.50,680.56 364.71,679.59C366.92,678.62 369.14,677.10 371.35,676.27C373.56,675.44 375.50,675.36 377.99,674.61C380.48,673.86 383.52,673.09 386.29,671.79C389.05,670.49 392.10,668.55 394.59,666.81C397.07,665.07 399.29,663.16 401.22,661.33C403.16,659.51 404.59,657.10 406.20,655.85C407.82,654.61 410.12,654.20 410.90,653.86L410.90,692.00L299.40,692.00Z" fill="#e8323f"/>
<rect x="300" y="691" width="110" height="1" fill="#e6e6e6"/>
<text class="m" x="355.15" y="547.6" font-size="15.6" font-weight="bold" fill="#ffffff" text-anchor="middle" letter-spacing="0.3" stroke="#0b0b0b" stroke-width="4" paint-order="stroke" stroke-linejoin="round">Saudi</text>
<text class="m" x="355.15" y="565.1" font-size="15.6" font-weight="bold" fill="#ffffff" text-anchor="middle" letter-spacing="0.3" stroke="#0b0b0b" stroke-width="4" paint-order="stroke" stroke-linejoin="round">Arabia</text>
<text class="m" transform="translate(407.2,685.5) scale(0.909,1)" font-size="16.5" font-weight="bold" fill="#ffffff" text-anchor="end" letter-spacing="-0.6">81</text>
</g>
<g>
<line x1="424" y1="646" x2="534" y2="646" stroke="#454545" stroke-width="1" stroke-dasharray="3.3 3.3"/>
<line x1="424" y1="601.5" x2="534" y2="601.5" stroke="#454545" stroke-width="1" stroke-dasharray="3.3 3.3"/>
<line x1="424" y1="557" x2="534" y2="557" stroke="#454545" stroke-width="1" stroke-dasharray="3.3 3.3"/>
<path d="M423.40,689.22C424.60,689.13 428.45,689.58 430.62,688.72C432.79,687.86 434.21,685.12 436.43,684.07C438.64,683.02 441.54,683.16 443.90,682.41C446.25,681.66 448.46,680.53 450.54,679.59C452.61,678.65 453.85,677.46 456.34,676.77C458.83,676.08 462.29,675.88 465.47,675.44C468.65,675.00 472.11,674.67 475.43,674.11C478.75,673.56 482.35,672.87 485.39,672.12C488.43,671.37 490.92,670.52 493.69,669.63C496.46,668.75 499.36,667.72 501.99,666.81C504.62,665.90 506.69,664.79 509.46,664.15C512.22,663.52 515.68,663.66 518.59,662.99C521.49,662.33 524.16,661.14 526.88,660.17C529.60,659.20 533.56,657.68 534.90,657.18L534.90,692.00L423.40,692.00Z" fill="#e8323f"/>
<rect x="424" y="691" width="110" height="1" fill="#e6e6e6"/>
<text class="m" x="479.15" y="547.6" font-size="15.6" font-weight="bold" fill="#ffffff" text-anchor="middle" letter-spacing="0.3" stroke="#0b0b0b" stroke-width="4" paint-order="stroke" stroke-linejoin="round">Thailand</text>
<text class="m" transform="translate(531.2,685.5) scale(0.909,1)" font-size="16.5" font-weight="bold" fill="#ffffff" text-anchor="end" letter-spacing="-0.6">73</text>
</g>
<g>
<line x1="548" y1="646" x2="658" y2="646" stroke="#454545" stroke-width="1" stroke-dasharray="3.3 3.3"/>
<line x1="548" y1="601.5" x2="658" y2="601.5" stroke="#454545" stroke-width="1" stroke-dasharray="3.3 3.3"/>
<line x1="548" y1="557" x2="658" y2="557" stroke="#454545" stroke-width="1" stroke-dasharray="3.3 3.3"/>
<path d="M547.40,689.22C549.43,689.13 555.35,688.97 559.60,688.72C563.84,688.47 568.73,688.28 572.88,687.72C577.02,687.17 580.90,686.06 584.49,685.40C588.09,684.73 591.69,684.29 594.45,683.74C597.22,683.19 598.74,682.85 601.09,682.08C603.44,681.30 606.07,679.76 608.56,679.09C611.05,678.43 613.68,678.57 616.03,678.10C618.38,677.63 620.32,676.85 622.67,676.27C625.02,675.69 627.65,675.52 630.14,674.61C632.63,673.70 635.25,671.98 637.61,670.79C639.96,669.60 642.03,668.50 644.24,667.47C646.46,666.45 648.44,665.40 650.88,664.65C653.33,663.90 657.56,663.27 658.90,662.99L658.90,692.00L547.40,692.00Z" fill="#e8323f"/>
<rect x="548" y="691" width="110" height="1" fill="#e6e6e6"/>
<text class="m" x="603.15" y="547.6" font-size="15.6" font-weight="bold" fill="#ffffff" text-anchor="middle" letter-spacing="0.3" stroke="#0b0b0b" stroke-width="4" paint-order="stroke" stroke-linejoin="round">UAE</text>
<text class="m" transform="translate(655.2,685.5) scale(0.909,1)" font-size="16.5" font-weight="bold" fill="#ffffff" text-anchor="end" letter-spacing="-0.6">60</text>
</g>
<g>
<line x1="52" y1="841" x2="162" y2="841" stroke="#454545" stroke-width="1" stroke-dasharray="3.3 3.3"/>
<line x1="52" y1="796.5" x2="162" y2="796.5" stroke="#454545" stroke-width="1" stroke-dasharray="3.3 3.3"/>
<line x1="52" y1="752" x2="162" y2="752" stroke="#454545" stroke-width="1" stroke-dasharray="3.3 3.3"/>
<path d="M51.40,884.22C52.60,884.13 56.03,884.02 58.62,883.72C61.20,883.41 63.87,882.80 66.92,882.39C69.96,881.98 73.28,881.56 76.88,881.23C80.47,880.90 84.90,881.23 88.49,880.40C92.09,879.57 95.41,877.36 98.45,876.25C101.50,875.14 104.26,874.51 106.75,873.76C109.24,873.01 110.90,872.32 113.39,871.77C115.88,871.21 118.92,870.80 121.69,870.44C124.46,870.08 127.22,869.83 129.99,869.61C132.75,869.39 135.52,869.47 138.29,869.11C141.05,868.75 143.82,868.28 146.59,867.45C149.35,866.62 152.16,865.10 154.88,864.13C157.60,863.16 161.56,862.06 162.90,861.64L162.90,887.00L51.40,887.00Z" fill="#e8323f"/>
<rect x="52" y="886" width="110" height="1" fill="#e6e6e6"/>
<text class="m" x="107.15" y="742.6" font-size="15.6" font-weight="bold" fill="#ffffff" text-anchor="middle" letter-spacing="0.3" stroke="#0b0b0b" stroke-width="4" paint-order="stroke" stroke-linejoin="round">Chile</text>
<text class="m" transform="translate(159.2,860.5) scale(0.909,1)" font-size="16.5" font-weight="bold" fill="#ffffff" text-anchor="end" letter-spacing="-0.6">52</text>
</g>
<g>
<line x1="176" y1="841" x2="286" y2="841" stroke="#454545" stroke-width="1" stroke-dasharray="3.3 3.3"/>
<line x1="176" y1="796.5" x2="286" y2="796.5" stroke="#454545" stroke-width="1" stroke-dasharray="3.3 3.3"/>
<line x1="176" y1="752" x2="286" y2="752" stroke="#454545" stroke-width="1" stroke-dasharray="3.3 3.3"/>
<path d="M176.00,884.22C177.93,884.08 183.45,883.69 187.60,883.39C191.74,883.08 196.17,882.67 200.88,882.39C205.58,882.11 211.66,882.17 215.81,881.73C219.96,881.28 222.73,880.23 225.77,879.73C228.81,879.24 231.58,879.13 234.07,878.74C236.56,878.35 238.77,878.02 240.71,877.41C242.65,876.80 243.48,875.86 245.69,875.09C247.90,874.31 251.50,873.46 253.99,872.76C256.48,872.07 258.41,871.46 260.63,870.94C262.84,870.41 264.91,870.00 267.27,869.61C269.62,869.22 272.52,869.44 274.73,868.61C276.95,867.78 278.67,865.93 280.54,864.63C282.42,863.33 285.09,861.45 286.00,860.81L286.00,887.00L176.00,887.00Z" fill="#f6c443"/>
<path d="M175.40,884.22C177.43,884.08 183.35,883.69 187.60,883.39C191.84,883.08 196.17,882.67 200.88,882.39C205.58,882.11 211.66,882.17 215.81,881.73C219.96,881.28 222.73,880.23 225.77,879.73C228.81,879.24 231.58,879.13 234.07,878.74C236.56,878.35 238.77,878.02 240.71,877.41C242.65,876.80 243.48,875.83 245.69,875.09C247.90,874.34 251.50,873.57 253.99,872.93C256.48,872.29 258.41,871.74 260.63,871.27C262.84,870.80 264.91,870.47 267.27,870.11C269.62,869.75 272.52,869.94 274.73,869.11C276.95,868.28 278.52,866.43 280.54,865.13C282.57,863.83 285.84,861.95 286.90,861.31L286.90,887.00L175.40,887.00Z" fill="#e8323f"/>
<rect x="176" y="886" width="110" height="1" fill="#e6e6e6"/>
<text class="m" x="231.15" y="742.6" font-size="15.6" font-weight="bold" fill="#ffffff" text-anchor="middle" letter-spacing="0.3" stroke="#0b0b0b" stroke-width="4" paint-order="stroke" stroke-linejoin="round">Mexico</text>
<text class="m" transform="translate(283.2,860.5) scale(0.909,1)" font-size="16.5" font-weight="bold" fill="#ffffff" text-anchor="end" letter-spacing="-0.6">52</text>
</g>
<g>
<line x1="300" y1="841" x2="410" y2="841" stroke="#454545" stroke-width="1" stroke-dasharray="3.3 3.3"/>
<line x1="300" y1="796.5" x2="410" y2="796.5" stroke="#454545" stroke-width="1" stroke-dasharray="3.3 3.3"/>
<line x1="300" y1="752" x2="410" y2="752" stroke="#454545" stroke-width="1" stroke-dasharray="3.3 3.3"/>
<path d="M300.00,882.72C301.93,882.42 307.45,881.50 311.60,880.90C315.74,880.29 320.73,879.51 324.88,879.07C329.02,878.63 332.62,878.54 336.49,878.24C340.37,877.94 344.52,877.96 348.11,877.24C351.71,876.53 355.03,875.03 358.07,873.93C361.11,872.82 363.05,871.35 366.37,870.61C369.69,869.86 374.11,869.91 377.99,869.44C381.86,868.97 385.73,868.20 389.61,867.78C393.48,867.37 397.83,867.31 401.22,866.95C404.62,866.59 408.54,865.85 410.00,865.63L410.00,887.00L300.00,887.00Z" fill="#f6c443"/>
<path d="M299.40,882.89C301.43,882.61 307.35,881.78 311.60,881.23C315.84,880.67 320.73,879.98 324.88,879.57C329.02,879.15 332.62,879.02 336.49,878.74C340.37,878.46 344.52,878.60 348.11,877.91C351.71,877.22 355.03,875.70 358.07,874.59C361.11,873.48 363.05,872.02 366.37,871.27C369.69,870.52 374.11,870.58 377.99,870.11C381.86,869.64 385.73,868.86 389.61,868.45C393.48,868.03 397.68,867.98 401.22,867.62C404.77,867.26 409.29,866.51 410.90,866.29L410.90,887.00L299.40,887.00Z" fill="#e8323f"/>
<rect x="300" y="886" width="110" height="1" fill="#e6e6e6"/>
<text class="m" x="355.15" y="742.6" font-size="15.6" font-weight="bold" fill="#ffffff" text-anchor="middle" letter-spacing="0.3" stroke="#0b0b0b" stroke-width="4" paint-order="stroke" stroke-linejoin="round">Belgium</text>
<text class="m" transform="translate(407.2,860.5) scale(0.909,1)" font-size="16.5" font-weight="bold" fill="#ffffff" text-anchor="end" letter-spacing="-0.6">40</text>
</g>
<g>
<line x1="424" y1="841" x2="534" y2="841" stroke="#454545" stroke-width="1" stroke-dasharray="3.3 3.3"/>
<line x1="424" y1="796.5" x2="534" y2="796.5" stroke="#454545" stroke-width="1" stroke-dasharray="3.3 3.3"/>
<line x1="424" y1="752" x2="534" y2="752" stroke="#454545" stroke-width="1" stroke-dasharray="3.3 3.3"/>
<path d="M423.40,884.22C425.43,884.02 431.35,883.47 435.60,883.05C439.84,882.64 444.31,882.11 448.88,881.73C453.44,881.34 459.11,881.37 462.98,880.73C466.86,880.09 469.21,878.57 472.11,877.91C475.02,877.24 477.92,877.22 480.41,876.75C482.90,876.28 484.84,875.81 487.05,875.09C489.26,874.37 491.48,873.21 493.69,872.43C495.90,871.66 498.25,871.05 500.33,870.44C502.40,869.83 503.65,869.14 506.14,868.78C508.63,868.42 512.08,868.39 515.27,868.28C518.45,868.17 521.95,868.31 525.22,868.12C528.50,867.92 533.29,867.29 534.90,867.12L534.90,887.00L423.40,887.00Z" fill="#e8323f"/>
<rect x="424" y="886" width="110" height="1" fill="#e6e6e6"/>
<text class="m" x="479.15" y="742.6" font-size="15.6" font-weight="bold" fill="#ffffff" text-anchor="middle" letter-spacing="0.3" stroke="#0b0b0b" stroke-width="4" paint-order="stroke" stroke-linejoin="round">Turkey</text>
<text class="m" transform="translate(531.2,860.5) scale(0.909,1)" font-size="16.5" font-weight="bold" fill="#ffffff" text-anchor="end" letter-spacing="-0.6">39</text>
</g>
<g>
<line x1="548" y1="841" x2="658" y2="841" stroke="#454545" stroke-width="1" stroke-dasharray="3.3 3.3"/>
<line x1="548" y1="796.5" x2="658" y2="796.5" stroke="#454545" stroke-width="1" stroke-dasharray="3.3 3.3"/>
<line x1="548" y1="752" x2="658" y2="752" stroke="#454545" stroke-width="1" stroke-dasharray="3.3 3.3"/>
<path d="M548.00,884.22C550.21,884.13 556.56,883.97 561.26,883.72C565.96,883.47 571.77,883.11 576.20,882.72C580.62,882.33 584.49,882.09 587.81,881.39C591.13,880.70 592.79,879.35 596.11,878.57C599.43,877.80 604.13,877.24 607.73,876.75C611.33,876.25 614.09,875.92 617.69,875.59C621.28,875.25 625.99,875.17 629.31,874.76C632.63,874.34 635.12,873.70 637.61,873.10C640.10,872.49 641.76,871.66 644.24,871.10C646.73,870.55 650.25,870.22 652.54,869.78C654.84,869.33 657.09,868.67 658.00,868.45L658.00,887.00L548.00,887.00Z" fill="#f6c443"/>
<path d="M547.40,884.22C549.71,884.13 556.46,883.94 561.26,883.72C566.06,883.50 571.77,883.22 576.20,882.89C580.62,882.56 584.49,882.36 587.81,881.73C591.13,881.09 592.79,879.79 596.11,879.07C599.43,878.35 604.13,877.88 607.73,877.41C611.33,876.94 614.09,876.58 617.69,876.25C621.28,875.92 625.99,875.83 629.31,875.42C632.63,875.00 635.12,874.37 637.61,873.76C640.10,873.15 641.76,872.32 644.24,871.77C646.73,871.21 650.10,870.88 652.54,870.44C654.99,870.00 657.84,869.33 658.90,869.11L658.90,887.00L547.40,887.00Z" fill="#e8323f"/>
<rect x="548" y="886" width="110" height="1" fill="#e6e6e6"/>
<text class="m" x="603.15" y="742.6" font-size="15.6" font-weight="bold" fill="#ffffff" text-anchor="middle" letter-spacing="0.3" stroke="#0b0b0b" stroke-width="4" paint-order="stroke" stroke-linejoin="round">South</text>
<text class="m" x="603.15" y="760.1" font-size="15.6" font-weight="bold" fill="#ffffff" text-anchor="middle" letter-spacing="0.3" stroke="#0b0b0b" stroke-width="4" paint-order="stroke" stroke-linejoin="round">Africa</text>
<text class="m" transform="translate(655.2,860.5) scale(0.909,1)" font-size="16.5" font-weight="bold" fill="#ffffff" text-anchor="end" letter-spacing="-0.6">34</text>
</g>
<text class="m" x="52" y="159.8" font-size="16.5" fill="#d0d0d0" textLength="27" lengthAdjust="spacingAndGlyphs">300</text>
<text class="m" x="52" y="205.2" font-size="16.5" fill="#d0d0d0" textLength="27" lengthAdjust="spacingAndGlyphs">200</text>
<text class="m" x="52" y="249.1" font-size="16.5" fill="#d0d0d0" textLength="27" lengthAdjust="spacingAndGlyphs">100</text>
<text class="m" x="52" y="319.2" font-size="16.5" fill="#d0d0d0" textLength="27" lengthAdjust="spacingAndGlyphs">’97</text>
<text class="m" x="162" y="319.2" font-size="16.5" fill="#d0d0d0" text-anchor="end" textLength="27" lengthAdjust="spacingAndGlyphs">’25</text>
</svg></body></html>
